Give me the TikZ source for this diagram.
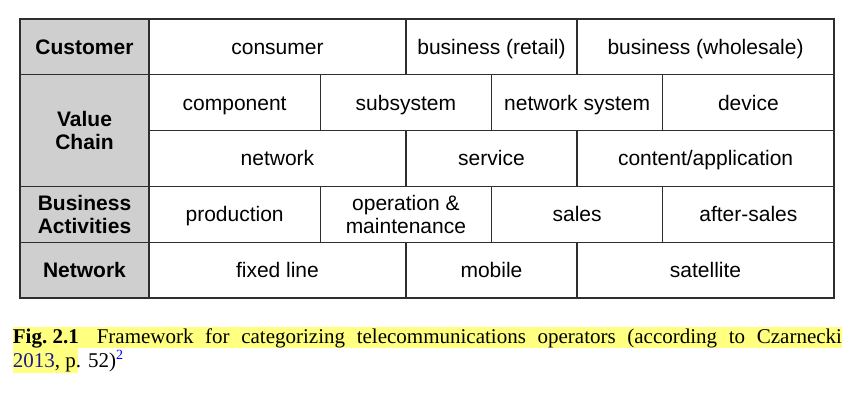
\documentclass[tikz,border=0pt]{standalone}
\usepackage{fontspec}
\setmainfont{Liberation Serif}
\newfontfamily\arialf{Liberation Sans}
\definecolor{hdrgray}{HTML}{CFCFCF}
\definecolor{gridline}{HTML}{2E2E2E}
\definecolor{hilite}{HTML}{FFFF80}
\definecolor{linkblue}{HTML}{1A1A8C}
\definecolor{supblue}{HTML}{0000FF}
\begin{document}
\begin{tikzpicture}[x=1pt,y=-1pt,
  basebox/.style={draw=gridline, line width=1.3pt, inner sep=0pt, anchor=center,
    font=\arialf\fontsize{21}{22.5}\selectfont, align=center, minimum height=55.8pt},
  cellbox/.style={basebox, text height=17pt, text depth=2.2pt},
  hdrbase/.style={basebox, fill=hdrgray, font=\arialf\bfseries\fontsize{21}{22.5}\selectfont, minimum width=129pt},
  hdrbox/.style={hdrbase, text height=17pt, text depth=2.2pt},
  capfont/.style={font=\fontsize{21}{24}\selectfont, inner sep=0pt}
]
\useasboundingbox (0,0) rectangle (856,407);
% header column
\node[hdrbox] (hcust) at (84.5,46.9) {Customer};
\node[hdrbase, minimum height=111.6pt] (hvc) at (84.5,130.6) {Value\\[0.8pt]Chain};
\node[hdrbase] (hba) at (84.5,214.3) {Business\\Activities};
\node[hdrbox] (hnet) at (84.5,270.1) {Network};
% row 1: customer
\node[cellbox, minimum width=256.875pt] (consumer) at (277.44,46.9) {consumer};
\node[cellbox, minimum width=171.25pt] (bretail) at (491.5,46.9) {business (retail)};
\node[cellbox, minimum width=256.875pt] (bwhole) at (705.56,46.9) {business (wholesale)};
% row 2: value chain a
\node[cellbox, minimum width=171.25pt] (component) at (234.625,102.7) {component};
\node[cellbox, minimum width=171.25pt] (subsystem) at (405.875,102.7) {subsystem};
\node[cellbox, minimum width=171.25pt] (netsys) at (577.125,102.7) {network system};
\node[cellbox, minimum width=171.25pt] (device) at (748.375,102.7) {device};
% row 3: value chain b
\node[cellbox, minimum width=256.875pt] (network) at (277.44,158.5) {network};
\node[cellbox, minimum width=171.25pt] (service) at (491.5,158.5) {service};
\node[cellbox, minimum width=256.875pt] (content) at (705.56,158.5) {content/application};
% row 4: business activities
\node[cellbox, minimum width=171.25pt] (production) at (234.625,214.3) {production};
\node[basebox, minimum width=171.25pt] (operation) at (405.875,214.3) {operation \&\\maintenance};
\node[cellbox, minimum width=171.25pt] (sales) at (577.125,214.3) {sales};
\node[cellbox, minimum width=171.25pt] (aftersales) at (748.375,214.3) {after-sales};
% row 5: network
\node[cellbox, minimum width=256.875pt] (fixed) at (277.44,270.1) {fixed line};
\node[cellbox, minimum width=171.25pt] (mobile) at (491.5,270.1) {mobile};
\node[cellbox, minimum width=256.875pt] (satellite) at (705.56,270.1) {satellite};
% caption highlight
\fill[hilite] (12.7,327) rectangle (841.7,348);
\fill[hilite] (12.7,348) rectangle (78,373);
% caption text
\node[capfont, anchor=base west] (cap1) at (12.7,343)
  {\makebox[829pt][s]{\textbf{Fig.\hspace{5.2pt}2.1}\hspace{18pt}Framework for categorizing telecommunications operators (according to Czarnecki}};
\node[capfont, anchor=base west] (cap2) at (12.7,367)
  {\textcolor{linkblue}{2013}, p. 52)\textsuperscript{\textcolor{supblue}{\fontsize{14}{14}\selectfont 2}}};
\end{tikzpicture}
\end{document}
